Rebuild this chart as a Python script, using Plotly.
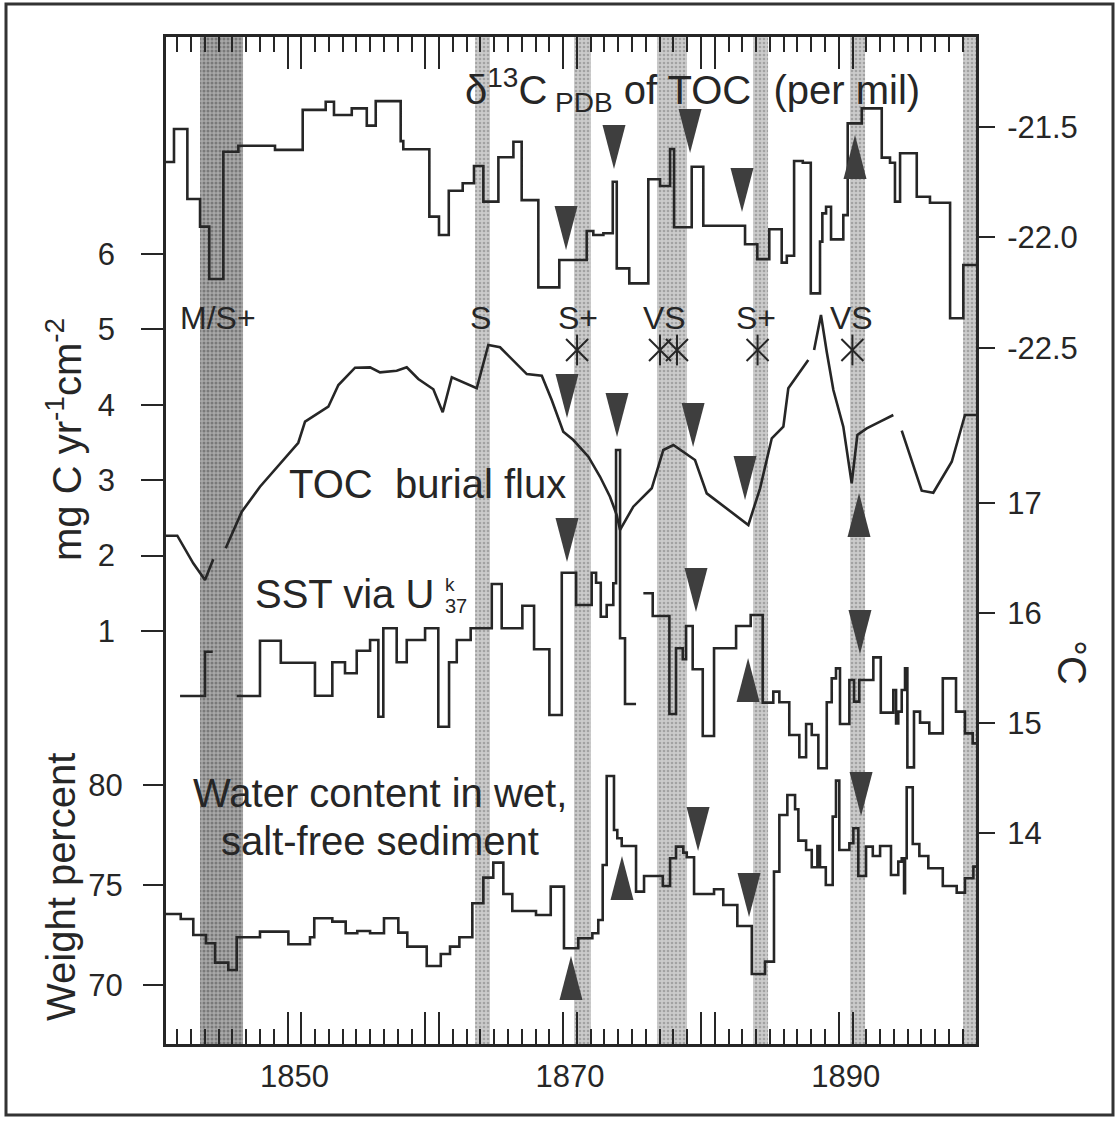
import plotly.graph_objects as go

# ---------------- data ----------------
# delta13C of TOC (per mil), step series: value holds from year[i] to year[i+1]
d13c_year = [1840.68, 1841.26, 1842.23, 1843.15, 1843.82, 1844.84, 1845.93, 1848.59, 1850.60, 1852.27,
             1852.87, 1854.16, 1855.25, 1855.90, 1857.71, 1857.90, 1859.79, 1860.49, 1861.20, 1862.21,
             1863.03, 1863.71, 1864.80, 1865.89, 1866.49, 1867.70, 1869.22, 1871.21, 1871.69, 1872.42,
             1873.10, 1873.39, 1874.30, 1875.68, 1876.53, 1877.26, 1877.55, 1878.83, 1879.67, 1882.70,
             1883.59, 1884.46, 1885.36, 1885.73, 1886.26, 1886.89, 1887.47, 1888.14, 1888.31, 1888.58,
             1888.94, 1889.83, 1890.15, 1891.17, 1892.62, 1893.22, 1893.58, 1893.95, 1895.16, 1896.12,
             1897.58, 1898.54, 1899.46]
d13c_val = [-21.660, -21.510, -21.827, -21.952, -22.189, -21.613, -21.586, -21.605, -21.424, -21.387,
            -21.447, -21.417, -21.495, -21.384, -21.565, -21.602, -21.907, -21.990, -21.790, -21.756,
            -21.678, -21.839, -21.638, -21.568, -21.832, -22.227, -22.103, -21.972, -21.990, -21.982,
            -21.749, -22.141, -22.209, -21.738, -21.768, -21.601, -21.955, -21.681, -21.948, -22.032,
            -22.099, -21.964, -22.115, -22.084, -21.655, -21.663, -22.254, -22.020, -21.892, -21.862,
            -22.010, -21.900, -21.485, -21.417, -21.640, -21.663, -21.839, -21.620, -21.817, -21.844,
            -22.367, -22.126, -22.126]

# TOC burial flux (mg C yr-1 cm-2), polyline with gaps
flux_year = [1840.68, 1841.50, 1842.66, 1843.51, 1844.11, None, 1845.01, 1846.18, 1847.50, 1848.96,
             1850.28, 1850.77, 1852.46, 1853.19, 1854.40, 1855.49, 1856.21, 1857.42, 1858.15, 1858.99,
             1860.08, 1860.76, 1861.42, 1863.23, 1864.07, 1864.92, 1865.77, 1866.86, 1867.95, 1868.67,
             1869.51, 1870.24, 1871.33, 1872.18, 1872.90, 1873.39, 1873.63, 1874.59, 1875.93, 1876.77,
             1877.50, 1879.07, 1879.92, 1882.94, 1883.79, 1884.64, 1885.48, 1885.84, 1887.29, None,
             1887.71, 1888.21, 1888.63, 1889.11, 1889.83, 1890.44, 1890.85, 1891.53, 1892.50, 1893.46,
             None, 1894.07, 1895.52, 1896.36, 1897.70, 1898.66, 1899.46]
flux_val = [2.264, 2.264, 1.898, 1.676, 1.951, None, 2.097, 2.582, 2.914, 3.224,
            3.497, 3.776, 3.975, 4.263, 4.492, 4.497, 4.431, 4.452, 4.497, 4.342,
            4.206, 3.901, 4.365, 4.219, 4.793, 4.763, 4.607, 4.408, 4.386, 4.064,
            3.643, 3.533, 3.312, 3.046, 2.781, 2.538, 2.340, 2.649, 2.893, 3.401,
            3.467, 3.268, 2.826, 2.406, 2.893, 3.556, 3.710, 4.219, 4.594, None,
            4.727, 5.191, 4.700, 4.196, 3.710, 2.959, 3.599, 3.688, 3.776, 3.865,
            None, 3.657, 2.861, 2.834, 3.245, 3.865, 3.865]

# SST via U^k'37 (deg C), step series with gaps
sst_year = [1841.70, 1843.51, 1844.07, None, 1845.81, 1847.50, 1849.01, 1851.49, 1852.75, 1853.67,
            1854.52, 1855.49, 1856.09, 1856.45, 1857.42, 1858.15, 1859.48, 1860.44, 1861.22, 1861.78,
            1862.79, 1864.32, 1865.04, 1866.54, 1867.39, 1868.50, 1869.40, 1870.44, 1871.57, 1871.89,
            1872.23, 1872.66, 1873.14, 1873.34, 1873.63, 1873.99, 1874.79, None, 1875.32, 1876.00,
            1877.21, 1877.69, 1878.18, 1878.42, 1878.90, 1879.63, 1880.45, 1882.05, 1883.11, 1883.98,
            1884.75, 1885.19, 1885.91, 1886.64, 1887.13, 1887.54, 1888.02, 1888.63, 1888.99, 1889.30,
            1889.59, 1890.27, 1890.61, 1890.99, 1892.01, 1892.55, 1893.46, 1893.66, 1893.82, 1894.07,
            1894.31, 1894.48, 1894.96, 1895.40, 1896.07, 1897.05, 1898.01, 1898.66, 1899.22, 1899.46]
sst_val = [15.245, 15.648, 15.648, None, 15.245, 15.748, 15.548, 15.248, 15.552, 15.452,
           15.657, 15.755, 15.057, 15.861, 15.552, 15.755, 15.861, 14.966, 15.552, 15.755,
           15.861, 16.264, 15.861, 16.066, 15.670, 15.073, 16.366, 16.073, 16.366, 16.275,
           15.966, 16.073, 16.270, 17.482, 15.770, 15.173, 15.173, None, 16.179, 15.973,
           15.082, 15.679, 15.579, 15.882, 15.488, 14.882, 15.679, 15.882, 15.982, 15.185,
           15.285, 15.188, 14.891, 14.688, 14.991, 14.891, 14.588, 15.188, 15.406, 15.497,
           14.991, 15.391, 15.194, 15.391, 15.597, 15.094, 15.300, 14.997, 15.103, 15.300,
           15.497, 14.597, 15.103, 15.003, 14.906, 15.406, 15.103, 14.906, 14.815, 14.815]

# Water content in wet, salt-free sediment (weight percent), step series
water_year = [1840.68, 1841.75, 1842.66, 1843.58, 1844.24, 1845.20, 1845.81, 1847.50, 1849.56, 1851.13,
              1851.44, 1852.75, 1853.72, 1854.56, 1855.49, 1856.50, 1857.54, 1858.19, 1859.60, 1860.62,
              1861.29, 1861.97, 1862.91, 1863.71, 1864.43, 1865.16, 1865.81, 1867.53, 1868.60, 1869.56,
              1870.60, 1871.62, 1872.05, 1872.37, 1872.66, 1873.19, 1873.43, 1873.75, 1874.79, 1875.37,
              1876.73, 1877.26, 1877.69, 1878.22, 1878.47, 1879.00, 1880.45, 1881.12, 1882.14, 1883.19,
              1884.15, 1884.80, 1885.19, 1885.77, 1886.33, 1886.57, 1887.13, 1887.54, 1887.95, 1888.14,
              1888.56, 1889.06, 1889.30, 1889.54, 1890.27, 1890.56, 1890.92, 1891.48, 1891.97, 1892.50,
              1893.29, 1893.82, 1894.07, 1894.24, 1894.31, 1894.43, 1894.87, 1895.35, 1896.00, 1897.05,
              1898.06, 1898.66, 1899.27, 1899.46]
water_val = [73.55, 73.30, 72.50, 72.09, 71.12, 70.75, 72.39, 72.67, 72.04, 72.39,
             73.34, 73.17, 72.59, 72.70, 72.59, 73.34, 72.62, 71.92, 70.95, 71.55,
             71.92, 72.39, 74.09, 75.37, 76.12, 74.55, 73.70, 73.50, 74.92, 71.84,
             72.34, 72.59, 73.25, 76.00, 80.45, 77.75, 77.34, 76.95, 74.67, 75.45,
             74.95, 76.34, 76.92, 76.62, 76.39, 74.55, 74.79, 74.00, 72.95, 70.55,
             71.17, 75.67, 78.50, 79.50, 78.79, 77.22, 76.75, 75.89, 76.95, 75.89,
             75.00, 78.42, 80.22, 76.75, 77.09, 77.84, 75.45, 76.92, 76.45, 76.95,
             75.50, 76.17, 76.34, 74.59, 76.34, 79.89, 77.05, 76.45, 75.84, 74.95,
             74.62, 75.34, 75.92, 75.92]

# shaded event bands (years)
band_start = [1843.15, 1863.11, 1870.29, 1876.31, 1883.28, 1890.32, 1898.52]
band_end = [1846.27, 1864.19, 1871.52, 1878.49, 1884.37, 1891.41, 1899.46]
band_dark = [True, False, False, False, False, False, False]

# event labels above the bands
event_label = ["M/S+", "S", "S+", "VS", "S+", "VS"]
event_label_year = [1844.46, 1863.47, 1870.58, 1876.89, 1883.50, 1890.46]
asterisk_year = [1870.51, 1876.53, 1877.76, 1883.61, 1890.49]
asterisk_flux = [4.727, 4.727, 4.727, 4.727, 4.727]

# arrow triangles (year, value on the series' own axis, direction)
tri_d13c_year = [1869.71, 1873.19, 1878.71, 1882.48, 1890.68]
tri_d13c_val = [-21.958, -21.592, -21.519, -21.786, -21.637]
tri_d13c_dir = ["down", "down", "down", "down", "up"]
tri_flux_year = [1869.78, 1873.41, 1878.93, 1882.70, 1890.97, 1869.78]
tri_flux_val = [4.117, 3.865, 3.732, 3.029, 2.538, 2.207]
tri_flux_dir = ["down", "down", "down", "down", "up", "down"]
tri_sst_year = [1879.14, 1882.92, 1891.04]
tri_sst_val = [16.209, 15.391, 15.827]
tri_sst_dir = ["down", "up", "down"]
tri_water_year = [1873.77, 1879.29, 1882.99, 1891.12, 1870.07]
tri_water_val = [75.35, 77.80, 74.50, 79.55, 70.35]
tri_water_dir = ["up", "down", "down", "down", "up"]

# ticks
decade_ticks = [1850, 1870, 1890]
flux_ticks = [1, 2, 3, 4, 5, 6]
weight_ticks = [70, 75, 80]
d13c_ticks = [-21.5, -22.0, -22.5]
d13c_ticktext = ["-21.5", "-22.0", "-22.5"]
sst_ticks = [14, 15, 16, 17]
year_minor_ticks = [y + 0.5 for y in range(1841, 1899)]
year_major_ticks = [d + s for d in range(1850, 1891, 10) for s in (-0.5, 0.5)]

# ---------------- layout geometry ----------------
W, H = 1119, 1121
L, R, T, B = 166, 976, 37, 1044
X_RANGE = [1840.68, 1899.46]
FLUX_RANGE = [-4.477, 8.878]
WEIGHT_RANGE = [67.05, 117.4]
D13C_RANGE = [-25.651, -21.094]
SST_RANGE = [12.082, 21.236]

FONT = "Liberation Sans, Arial, Helvetica, sans-serif"
INK = "#262626"
LW = 2.6


def pxp(x):
    return (x - L) / (R - L)


def pyp(y):
    return (B - y) / (B - T)


fig = go.Figure()

# shaded bands (drawn on main y axis so they sit beneath all lines)
for dark in (True, False):
    xs = [(s + e) / 2 for s, e, d in zip(band_start, band_end, band_dark) if d == dark]
    ws = [(e - s) for s, e, d in zip(band_start, band_end, band_dark) if d == dark]
    fig.add_trace(go.Bar(
        x=xs, y=[FLUX_RANGE[1] - FLUX_RANGE[0]] * len(xs), base=FLUX_RANGE[0], width=ws,
        xaxis="x", yaxis="y",
        marker=dict(color="#a8a8a8" if dark else "#cbcbcb",
                    line=dict(width=0),
                    pattern=dict(shape=".", fgcolor="#4a4a4a" if dark else "#7a7a7a",
                                 size=4, solidity=0.45 if dark else 0.35)),
        hoverinfo="skip", showlegend=False))

# series
fig.add_trace(go.Scatter(x=flux_year, y=flux_val, mode="lines", yaxis="y",
                         line=dict(color=INK, width=LW), hoverinfo="skip", showlegend=False))
fig.add_trace(go.Scatter(x=water_year, y=water_val, mode="lines", yaxis="y2",
                         line=dict(color=INK, width=LW, shape="hv"), hoverinfo="skip", showlegend=False))
fig.add_trace(go.Scatter(x=d13c_year, y=d13c_val, mode="lines", yaxis="y3",
                         line=dict(color=INK, width=LW, shape="hv"), hoverinfo="skip", showlegend=False))
fig.add_trace(go.Scatter(x=sst_year, y=sst_val, mode="lines", yaxis="y4",
                         line=dict(color=INK, width=LW, shape="hv"), hoverinfo="skip", showlegend=False))

# asterisks (vertical bar + X)
for sym in ("line-ns-open", "x-thin-open"):
    fig.add_trace(go.Scatter(x=asterisk_year, y=asterisk_flux, mode="markers", yaxis="y",
                             marker=dict(symbol=sym, size=22, color=INK, line=dict(color=INK, width=2)),
                             hoverinfo="skip", showlegend=False))

# dummy traces for tick-only x axes
fig.add_trace(go.Scatter(x=[], y=[], xaxis="x2", yaxis="y", showlegend=False, hoverinfo="skip"))
fig.add_trace(go.Scatter(x=[], y=[], xaxis="x3", yaxis="y", showlegend=False, hoverinfo="skip"))

# triangles as pixel-sized shapes anchored at data points
shapes = []


def add_tris(years, vals, dirs, yref):
    hw, hh = 11.5, 22
    for x, y, d in zip(years, vals, dirs):
        if d == "down":
            path = f"M{-hw},{hh} L{hw},{hh} L0,{-hh} Z"
        else:
            path = f"M{-hw},{-hh} L{hw},{-hh} L0,{hh} Z"
        shapes.append(dict(type="path", xref="x", yref=yref, xsizemode="pixel", ysizemode="pixel",
                           xanchor=x, yanchor=y, path=path, fillcolor="#3e3e3e",
                           line=dict(width=0), layer="above"))


add_tris(tri_d13c_year, tri_d13c_val, tri_d13c_dir, "y3")
add_tris(tri_flux_year, tri_flux_val, tri_flux_dir, "y")
add_tris(tri_sst_year, tri_sst_val, tri_sst_dir, "y4")
add_tris(tri_water_year, tri_water_val, tri_water_dir, "y2")

# outer frame of the scanned figure
shapes.append(dict(type="rect", xref="paper", yref="paper",
                   x0=pxp(6), x1=pxp(1113), y0=pyp(1115), y1=pyp(4),
                   line=dict(color="#333333", width=3), fillcolor="rgba(0,0,0,0)", layer="above"))

ann = []


def txt(text, x, y, size, xref="paper", xanchor="center", angle=0):
    ann.append(dict(text=text, x=x, y=y, xref=xref, yref="paper", xanchor=xanchor, yanchor="middle",
                    showarrow=False, textangle=angle, font=dict(family=FONT, size=size, color=INK)))


txt("δ<sup>13</sup>C<sub>\u00a0PDB</sub> of TOC\u00a0\u00a0(per mil)", pxp(463), pyp(90), 40, xanchor="left")
for lab, yr in zip(event_label, event_label_year):
    txt(lab, yr, pyp(318), 32, xref="x")
txt("TOC\u00a0\u00a0burial flux", pxp(427), pyp(484), 40)
txt("SST via U", pxp(253), pyp(594), 40, xanchor="left")
txt("k", pxp(450), pyp(584), 19)
txt("37", pxp(456), pyp(606), 20)
txt("Water content in wet,", pxp(380), pyp(793), 40)
txt("salt-free sediment", pxp(380), pyp(841), 40)
txt("mg C yr<sup>-1</sup>cm<sup>-2</sup>", pxp(64), pyp(440), 40, angle=-90)
txt("Weight percent", pxp(61), pyp(887), 40, angle=-90)
txt("°C", pxp(1072), pyp(662), 40, angle=90)

tickfont = dict(family=FONT, size=31, color=INK)
common_x = dict(range=X_RANGE, showgrid=False, zeroline=False, fixedrange=True)

fig.update_layout(
    width=W, height=H,
    margin=dict(l=L, r=W - R, t=T, b=H - B, autoexpand=False),
    paper_bgcolor="white", plot_bgcolor="white",
    barmode="overlay", showlegend=False, hovermode=False,
    xaxis=dict(**common_x, tickmode="array", tickvals=decade_ticks, ticktext=[str(v) for v in decade_ticks],
               ticks="", tickfont=tickfont, ticklabelstandoff=3,
               showline=True, linecolor=INK, linewidth=2.5, mirror=True),
    xaxis2=dict(**common_x, overlaying="x", anchor="y", tickmode="array", tickvals=year_minor_ticks,
                ticks="inside", ticklen=15, tickwidth=2, tickcolor=INK, showticklabels=False,
                showline=True, linecolor=INK, linewidth=2.5, mirror="ticks"),
    xaxis3=dict(**common_x, overlaying="x", anchor="y", tickmode="array", tickvals=year_major_ticks,
                ticks="inside", ticklen=32, tickwidth=2, tickcolor=INK, showticklabels=False,
                showline=True, linecolor=INK, linewidth=2.5, mirror="ticks"),
    yaxis=dict(range=FLUX_RANGE, tickmode="array", tickvals=flux_ticks, ticks="outside", ticklen=22,
               tickwidth=2, tickcolor=INK, tickfont=tickfont, ticklabelstandoff=20,
               showgrid=False, zeroline=False, showline=True, linecolor=INK, linewidth=2.5,
               mirror=True, fixedrange=True),
    yaxis2=dict(range=WEIGHT_RANGE, overlaying="y", side="left", anchor="x", tickmode="array",
                tickvals=weight_ticks, ticks="outside", ticklen=22, tickwidth=2, tickcolor=INK,
                tickfont=tickfont, ticklabelstandoff=14, showgrid=False, zeroline=False,
                showline=False, fixedrange=True),
    yaxis3=dict(range=D13C_RANGE, overlaying="y", side="right", anchor="x", tickmode="array",
                tickvals=d13c_ticks, ticktext=d13c_ticktext, ticks="outside", ticklen=18, tickwidth=2,
                tickcolor=INK, tickfont=tickfont, ticklabelstandoff=6, showgrid=False, zeroline=False,
                showline=False, fixedrange=True),
    yaxis4=dict(range=SST_RANGE, overlaying="y", side="right", anchor="x", tickmode="array",
                tickvals=sst_ticks, ticks="outside", ticklen=18, tickwidth=2, tickcolor=INK,
                tickfont=tickfont, ticklabelstandoff=6, showgrid=False, zeroline=False,
                showline=False, fixedrange=True),
    shapes=shapes,
    annotations=ann,
)

fig.write_html("out.html", config={"displayModeBar": False},
               post_script="document.body.style.margin='0';document.body.style.overflow='hidden';")
